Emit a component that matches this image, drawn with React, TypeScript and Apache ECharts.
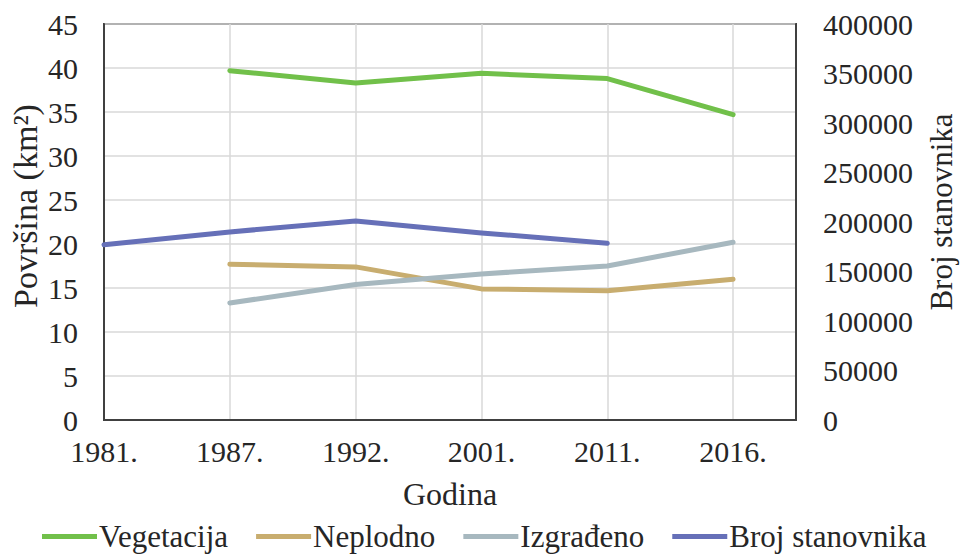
import React, { useEffect, useRef } from "react";
import * as echarts from "echarts";

const years = ["1981.", "1987.", "1992.", "2001.", "2011.", "2016."];
const vegetacija: (number | null)[] = [null, 39.7, 38.3, 39.4, 38.8, 34.7];
const neplodno: (number | null)[] = [null, 17.7, 17.4, 14.9, 14.7, 16.0];
const izgradjeno: (number | null)[] = [null, 13.3, 15.4, 16.6, 17.5, 20.2];
const brojStanovnika: (number | null)[] = [177000, 190000, 201000, 189000, 178500, null];

const leftTicks = { min: 0, max: 45, interval: 5 };
const rightTicks = { min: 0, max: 400000, interval: 50000 };

const FONT = "Liberation Serif";
const TXT = "#262626";

function pairs(arr: (number | null)[]) {
  return arr
    .map((v, i) => (v === null ? null : [i, v]))
    .filter((p) => p !== null) as number[][];
}

export default function App() {
  const ref = useRef<HTMLDivElement>(null);
  useEffect(() => {
    if (!ref.current) return;
    const chart = echarts.init(ref.current, undefined, { renderer: "svg" });
    const lineSeries = (name: string, data: (number | null)[], color: string, yAxisIndex = 0) => ({
      name,
      type: "line",
      yAxisIndex,
      data: pairs(data),
      showSymbol: false,
      symbol: "none",
      lineStyle: { color, width: 5, cap: "round", join: "round" },
      itemStyle: { color },
    });
    chart.setOption({
      animation: false,
      backgroundColor: "#ffffff",
      textStyle: { fontFamily: FONT },
      grid: {
        left: 104,
        top: 24,
        right: 164,
        bottom: 135,
        show: true,
        borderColor: "#404040",
        borderWidth: 2,
        containLabel: false,
      },
      legend: {
        left: 42,
        top: 521,
        padding: 0,
        itemWidth: 55,
        itemHeight: 5,
        itemGap: 28,
        icon: "rect",
        textStyle: { fontFamily: FONT, fontSize: 31, color: TXT, padding: [0, 0, 0, -3] },
        data: ["Vegetacija", "Neplodno", "Izgrađeno", "Broj stanovnika"],
      },
      xAxis: {
        type: "value",
        min: 0,
        max: 5.5,
        interval: 1,
        name: "Godina",
        nameLocation: "middle",
        nameGap: 58,
        nameTextStyle: { fontFamily: FONT, fontSize: 32, color: TXT },
        axisLine: { show: true, lineStyle: { color: "#404040", width: 2 } },
        axisTick: { show: false },
        splitLine: { show: true, lineStyle: { color: "#d9d9d9", width: 1.5 } },
        axisLabel: {
          fontFamily: FONT,
          fontSize: 30,
          color: TXT,
          margin: 16,
          formatter: (v: number) => (Number.isInteger(v) && years[v] !== undefined ? years[v] : ""),
        },
      },
      yAxis: [
        {
          type: "value",
          ...leftTicks,
          position: "left",
          axisLine: { show: true, lineStyle: { color: "#404040", width: 2 } },
          axisTick: { show: false },
          splitLine: { show: true, lineStyle: { color: "#d9d9d9", width: 1.5 } },
          axisLabel: { fontFamily: FONT, fontSize: 30, color: TXT, margin: 26 },
        },
        {
          type: "value",
          ...rightTicks,
          position: "right",
          axisLine: { show: true, lineStyle: { color: "#404040", width: 2 } },
          axisTick: { show: false },
          splitLine: { show: false },
          axisLabel: {
            fontFamily: FONT,
            fontSize: 30,
            color: TXT,
            margin: 27,
            formatter: (v: number) => String(v),
          },
        },
      ],
      graphic: [
        {
          type: "text",
          x: 25,
          y: 206,
          rotation: Math.PI / 2,
          style: {
            text: "Površina (km²)",
            fontFamily: FONT,
            fontSize: 34,
            fill: TXT,
            align: "center",
            verticalAlign: "middle",
          },
        },
        {
          type: "text",
          x: 941,
          y: 212,
          rotation: Math.PI / 2,
          style: {
            text: "Broj stanovnika",
            fontFamily: FONT,
            fontSize: 31,
            fill: TXT,
            align: "center",
            verticalAlign: "middle",
          },
        },
      ],
      series: [
        lineSeries("Vegetacija", vegetacija, "#71c04a"),
        lineSeries("Neplodno", neplodno, "#c8ad6f"),
        lineSeries("Izgrađeno", izgradjeno, "#a7b8bf"),
        lineSeries("Broj stanovnika", brojStanovnika, "#6670b8", 1),
      ],
    });
    return () => chart.dispose();
  }, []);
  return (
    <div
      ref={ref}
      style={{ position: "fixed", left: 0, top: 0, width: 960, height: 555, background: "#fff" }}
    />
  );
}
